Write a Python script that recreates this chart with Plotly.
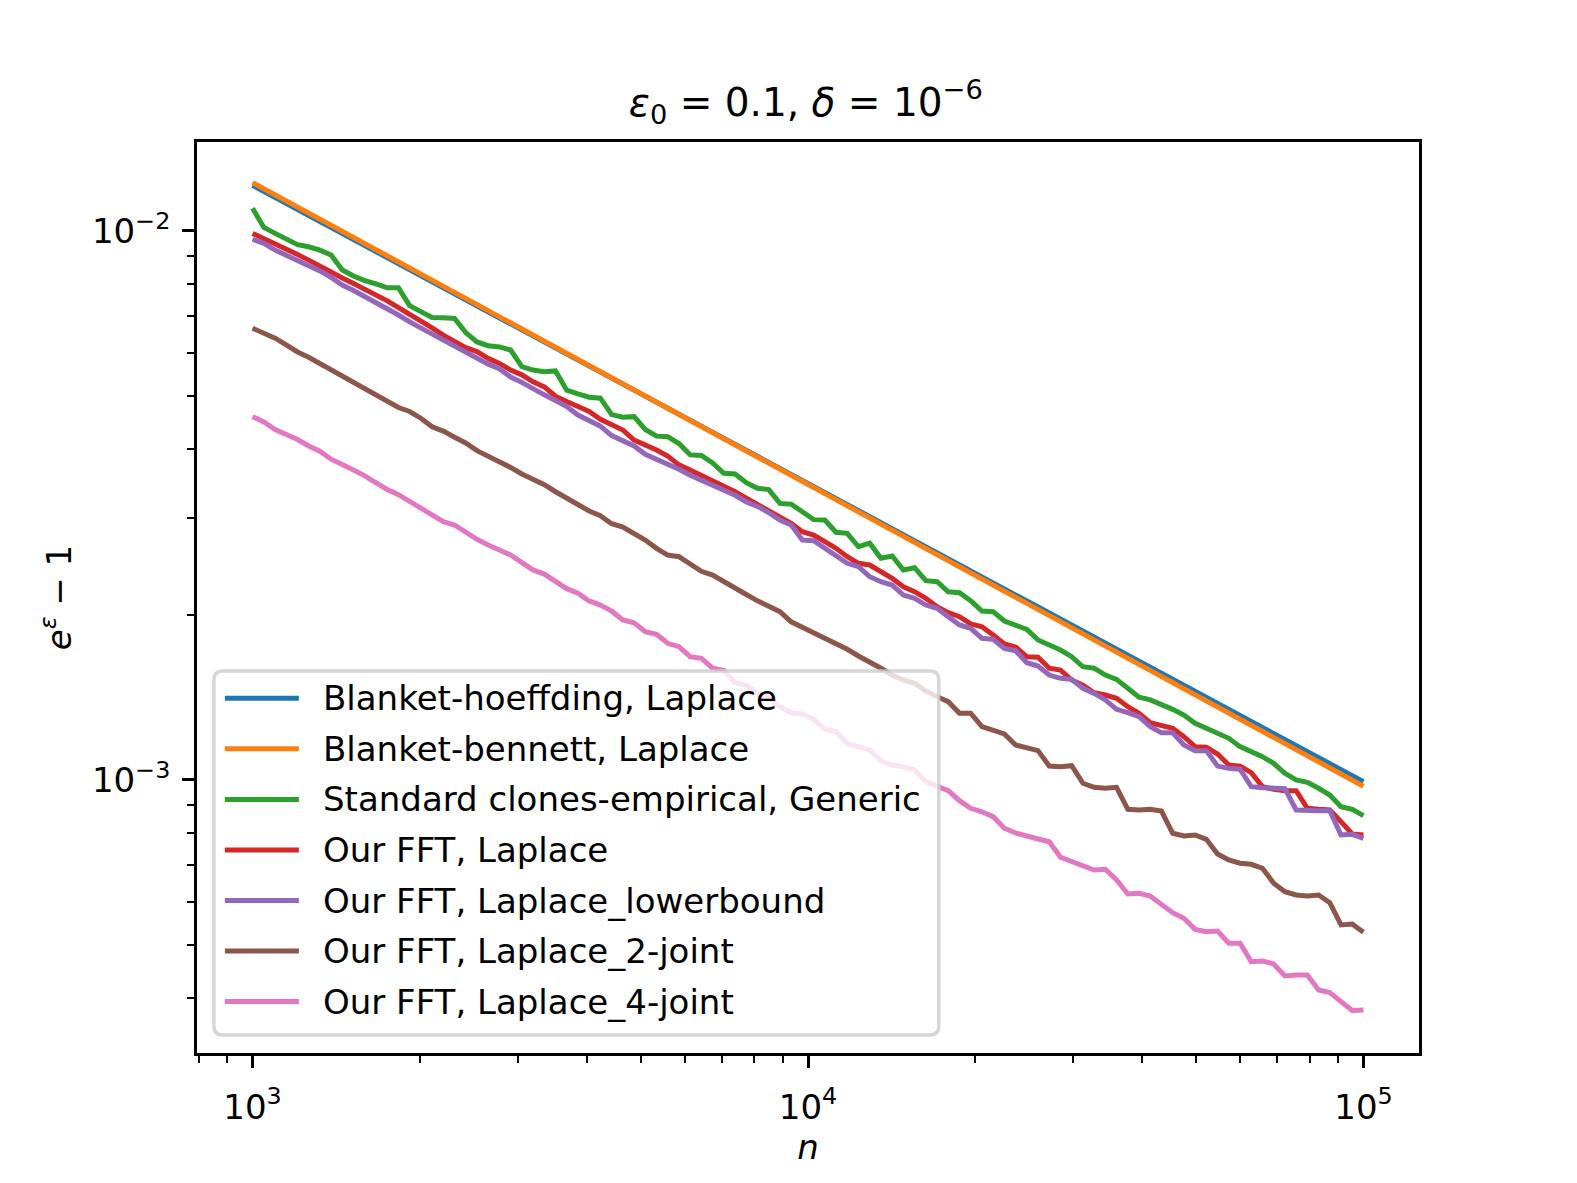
import plotly.graph_objects as go

# sample sizes n (100 log-spaced points from 1e3 to 1e5)
n = [1000, 1048, 1098, 1150, 1205, 1262, 1322, 1385, 1451, 1520,
     1592, 1668, 1748, 1831, 1918, 2009, 2105, 2205, 2310, 2420,
     2535, 2656, 2783, 2915, 3054, 3199, 3352, 3511, 3678, 3854,
     4037, 4229, 4431, 4642, 4863, 5094, 5337, 5591, 5857, 6136,
     6428, 6734, 7055, 7391, 7743, 8111, 8498, 8902, 9326, 9770,
     10235, 10723, 11233, 11768, 12328, 12915, 13530, 14175, 14850, 15557,
     16298, 17074, 17886, 18738, 19630, 20565, 21544, 22570, 23645, 24771,
     25950, 27186, 28480, 29836, 31257, 32745, 34305, 35938, 37649, 39442,
     41320, 43288, 45349, 47508, 49770, 52140, 54623, 57224, 59948, 62803,
     65793, 68926, 72208, 75646, 79248, 83022, 86975, 91116, 95455, 100000]

# the two blanket bounds are straight lines in log-log
n_bound = [1000, 10000, 100000]

# e^eps - 1, in units of 1e-3
SCALE = 1e-3
hoeffding = [12.11, 3.466, 0.9929]
bennett = [12.25, 3.452, 0.9739]

clones = [11.00, 10.15, 9.90, 9.66, 9.44, 9.36, 9.23, 9.04, 8.49, 8.28,
          8.12, 8.01, 7.88, 7.88, 7.31, 7.13, 6.96, 6.95, 6.93, 6.53,
          6.28, 6.18, 6.15, 6.07, 5.66, 5.58, 5.54, 5.56, 5.13, 5.05,
          4.98, 4.96, 4.63, 4.58, 4.59, 4.35, 4.23, 4.22, 4.10, 3.91,
          3.90, 3.78, 3.62, 3.61, 3.48, 3.40, 3.38, 3.19, 3.18, 3.08,
          2.98, 2.975, 2.826, 2.814, 2.66, 2.70, 2.534, 2.558, 2.413, 2.436,
          2.307, 2.297, 2.202, 2.193, 2.121, 2.031, 2.026, 1.948, 1.912, 1.881,
          1.799, 1.762, 1.725, 1.677, 1.608, 1.598, 1.553, 1.525, 1.469, 1.415,
          1.399, 1.375, 1.345, 1.313, 1.268, 1.242, 1.216, 1.191, 1.150, 1.126,
          1.103, 1.0725, 1.0285, 1.000, 0.9904, 0.9658, 0.939, 0.8941, 0.8843, 0.8609]

fft = [9.90, 9.69, 9.49, 9.27, 9.06, 8.85, 8.62, 8.44, 8.21, 8.02,
       7.84, 7.65, 7.46, 7.25, 7.06, 6.86, 6.66, 6.46, 6.30, 6.13,
       6.03, 5.86, 5.74, 5.58, 5.47, 5.31, 5.20, 5.00, 4.89, 4.79,
       4.69, 4.54, 4.43, 4.34, 4.16, 4.08, 3.99, 3.89, 3.75, 3.67,
       3.59, 3.51, 3.43, 3.35, 3.26, 3.18, 3.10, 3.02, 2.934, 2.833,
       2.794, 2.717, 2.642, 2.551, 2.481, 2.464, 2.395, 2.330, 2.249, 2.203,
       2.143, 2.069, 2.017, 1.984, 1.924, 1.902, 1.837, 1.769, 1.747, 1.677,
       1.673, 1.598, 1.586, 1.521, 1.489, 1.442, 1.428, 1.409, 1.360, 1.323,
       1.272, 1.259, 1.242, 1.199, 1.150, 1.147, 1.115, 1.065, 1.060, 1.0311,
       0.9723, 0.9618, 0.9561, 0.9561, 0.8880, 0.8843, 0.8818, 0.8396, 0.7973, 0.7940]

fft_lower = [9.66, 9.49, 9.23, 9.04, 8.85, 8.65, 8.46, 8.23, 7.97, 7.79,
             7.60, 7.39, 7.24, 7.03, 6.83, 6.66, 6.50, 6.34, 6.19, 6.03,
             5.89, 5.72, 5.61, 5.42, 5.30, 5.15, 5.03, 4.91, 4.79, 4.62,
             4.52, 4.41, 4.24, 4.16, 4.06, 3.92, 3.84, 3.77, 3.68, 3.59,
             3.52, 3.45, 3.37, 3.30, 3.21, 3.15, 3.07, 2.975, 2.914, 2.736,
             2.728, 2.642, 2.551, 2.481, 2.446, 2.346, 2.297, 2.265, 2.172, 2.143,
             2.083, 2.055, 1.984, 1.916, 1.889, 1.812, 1.804, 1.737, 1.720, 1.635,
             1.613, 1.553, 1.532, 1.525, 1.469, 1.438, 1.399, 1.345, 1.326, 1.304,
             1.251, 1.219, 1.219, 1.158, 1.131, 1.131, 1.060, 1.050, 1.046, 0.9723,
             0.9682, 0.9642, 0.9642, 0.8818, 0.8792, 0.8792, 0.8792, 0.7940, 0.7963, 0.7830]

fft_2joint = [6.65, 6.51, 6.38, 6.20, 6.02, 5.89, 5.74, 5.56, 5.43, 5.30,
              5.17, 5.03, 4.91, 4.77, 4.69, 4.56, 4.40, 4.32, 4.21, 4.11,
              3.98, 3.89, 3.78, 3.71, 3.61, 3.53, 3.45, 3.35, 3.26, 3.17,
              3.09, 3.03, 2.930, 2.889, 2.814, 2.736, 2.642, 2.569, 2.551, 2.481,
              2.400, 2.362, 2.295, 2.230, 2.177, 2.120, 2.068, 2.026, 1.941, 1.897,
              1.855, 1.812, 1.774, 1.730, 1.682, 1.642, 1.598, 1.553, 1.521, 1.500,
              1.452, 1.418, 1.389, 1.323, 1.323, 1.251, 1.233, 1.213, 1.158, 1.145,
              1.131, 1.060, 1.057, 1.062, 0.9863, 0.9699, 0.9658, 0.9699, 0.8843, 0.8818,
              0.8843, 0.8780, 0.7997, 0.7907, 0.7940, 0.7797, 0.7329, 0.7150, 0.7052, 0.7022,
              0.6906, 0.6484, 0.6260, 0.6174, 0.6148, 0.6174, 0.5978, 0.5444, 0.5467, 0.5280]

fft_4joint = [4.59, 4.49, 4.35, 4.26, 4.17, 4.06, 3.97, 3.84, 3.76, 3.67,
              3.58, 3.48, 3.38, 3.31, 3.22, 3.14, 3.05, 2.954, 2.914, 2.821,
              2.744, 2.679, 2.624, 2.569, 2.488, 2.413, 2.372, 2.297, 2.231, 2.188,
              2.119, 2.083, 2.030, 1.956, 1.933, 1.863, 1.843, 1.774, 1.749, 1.677,
              1.666, 1.598, 1.582, 1.504, 1.489, 1.438, 1.409, 1.360, 1.326, 1.319,
              1.290, 1.237, 1.225, 1.166, 1.147, 1.134, 1.084, 1.065, 1.057, 1.043,
              0.9929, 0.9723, 0.9561, 0.9169, 0.8880, 0.8753, 0.8574, 0.8167, 0.8007, 0.7907,
              0.7830, 0.7719, 0.7231, 0.7099, 0.7001, 0.6856, 0.6876, 0.6575, 0.6200, 0.6218,
              0.6148, 0.5946, 0.5731, 0.5598, 0.5345, 0.5292, 0.5307, 0.5041, 0.5041, 0.4668,
              0.4681, 0.4623, 0.4395, 0.4413, 0.4413, 0.4145, 0.4099, 0.3947, 0.3802, 0.3812]

labels = ['Blanket-hoeffding, Laplace',
          'Blanket-bennett, Laplace',
          'Standard clones-empirical, Generic',
          'Our FFT, Laplace',
          'Our FFT, Laplace_lowerbound',
          'Our FFT, Laplace_2-joint',
          'Our FFT, Laplace_4-joint']
colors = ['#1f77b4', '#ff7f0e', '#2ca02c', '#d62728', '#9467bd', '#8c564b', '#e377c2']

x_ticks = [1e3, 1e4, 1e5]
x_ticktext = ['10<sup>3</sup>', '10<sup>4</sup>', '10<sup>5</sup>']
x_minor = [800, 900] + [k * 1000 for k in range(2, 10)] + [k * 10000 for k in range(2, 10)]
y_ticks = [1e-3, 1e-2]
y_ticktext = ['10<sup>\u22123</sup>', '10<sup>\u22122</sup>']
y_minor = [k * 1e-4 for k in range(4, 10)] + [k * 1e-3 for k in range(2, 10)]

series = [
    (n_bound, hoeffding),
    (n_bound, bennett),
    (n, clones),
    (n, fft),
    (n, fft_lower),
    (n, fft_2joint),
    (n, fft_4joint),
]

FONT = 'DejaVu Sans'
W, H = 1577, 1183
# axes box in pixels
L, R, T, B = 197.1, 1419.3, 142.0, 1053.0


def xp(x):
    return (x - L) / (R - L)


def yp(y):
    return 1 - (y - T) / (B - T)


fig = go.Figure()
for (xs, ys), name, c in zip(series, labels, colors):
    fig.add_trace(go.Scatter(x=xs, y=[v * SCALE for v in ys], mode='lines', name=name,
                             line=dict(color=c, width=5), showlegend=False))

# matplotlib-like legend box (lower left), drawn by hand
bx0, bx1, by0, by1, r = 214, 939, 671, 1035, 9
rx, ry = r / (R - L), r / (B - T)
x0, x1, y0, y1 = xp(bx0), xp(bx1), yp(by0), yp(by1)
path = (f'M {x0 + rx},{y0} L {x1 - rx},{y0} Q {x1},{y0} {x1},{y0 - ry} '
        f'L {x1},{y1 + ry} Q {x1},{y1} {x1 - rx},{y1} '
        f'L {x0 + rx},{y1} Q {x0},{y1} {x0},{y1 + ry} '
        f'L {x0},{y0 - ry} Q {x0},{y0} {x0 + rx},{y0} Z')
shapes = [dict(type='path', xref='paper', yref='paper', path=path, layer='above',
               fillcolor='rgba(255,255,255,0.8)', line=dict(color='rgba(204,204,204,0.8)', width=3.4))]
annotations = []
for k, (name, c) in enumerate(zip(labels, colors)):
    row_y = 698.3 + 50.55 * k
    shapes.append(dict(type='line', xref='paper', yref='paper', layer='above',
                       x0=xp(225), x1=xp(299), y0=yp(row_y), y1=yp(row_y),
                       line=dict(color=c, width=5)))
    annotations.append(dict(text=name, xref='paper', yref='paper', x=xp(321), y=yp(row_y),
                            xanchor='left', yanchor='middle', showarrow=False,
                            font=dict(family=FONT, size=34, color='black')))

axis_common = dict(type='log', showgrid=False, zeroline=False, showline=True, linecolor='black',
                   linewidth=2.7, mirror=True, ticks='outside', ticklen=12, tickwidth=2.7,
                   tickcolor='black', tickmode='array', automargin=False,
                   tickfont=dict(family=FONT, size=34, color='black'))

fig.update_layout(
    width=W, height=H,
    template='none',
    paper_bgcolor='white', plot_bgcolor='white',
    margin=dict(l=L, r=W - R, t=T, b=H - B, pad=0),
    font=dict(family=FONT, size=34, color='black'),
    showlegend=False,
    title=dict(text='<i>\u03b5</i><sub>0</sub> = 0.1, <i>\u03b4</i> = 10<sup>\u22126</sup>',
               x=xp(806), xref='paper', xanchor='center',
               y=1 - 102 / H, yref='container', yanchor='middle',
               font=dict(family=FONT, size=39, color='black')),
    xaxis=dict(axis_common, range=[2.9, 5.1], tickvals=x_ticks, ticktext=x_ticktext,
               ticklabelstandoff=10,
               minor=dict(tickvals=x_minor, ticks='outside', ticklen=7, tickwidth=2,
                          tickcolor='black', showgrid=False),
               title=dict(text='<i>n</i>', standoff=6, font=dict(family=FONT, size=34))),
    yaxis=dict(axis_common, range=[-3.4973, -1.8379], tickvals=y_ticks, ticktext=y_ticktext,
               ticklabelstandoff=5,
               minor=dict(tickvals=y_minor, ticks='outside', ticklen=7, tickwidth=2,
                          tickcolor='black', showgrid=False),
               title=dict(text='<i>e</i><sup><i>\u03b5</i></sup> \u2212 1', standoff=11,
                          font=dict(family=FONT, size=34))),
    shapes=shapes,
    annotations=annotations,
)

# drop the browser's default body margin so the figure sits at the page origin
fig.write_html('out.html', config={'displayModeBar': False},
               post_script="document.body.style.margin='0';")
